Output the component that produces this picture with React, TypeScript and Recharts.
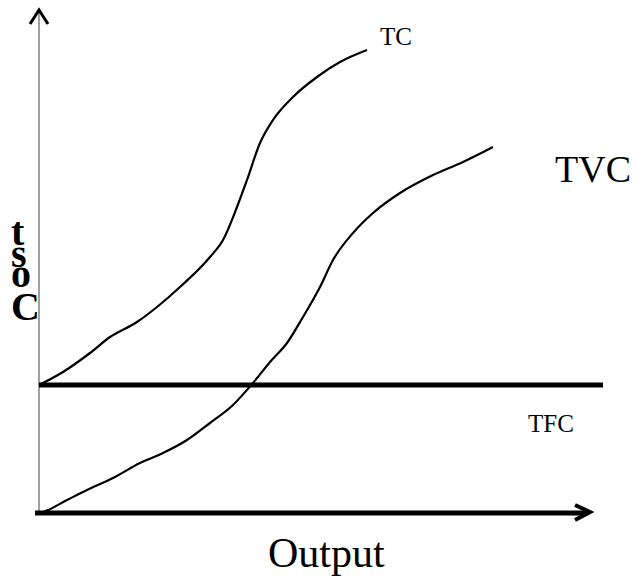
import React from 'react';
import {
  LineChart,
  Line,
  XAxis,
  YAxis,
  ReferenceLine,
  ReferenceDot,
} from 'recharts';

// output units on x (0..115), cost units on y (0..100)
const tcOutput = [0, 4.8, 10.2, 14.2, 19.6, 23.6, 28.2, 34.2, 36.8, 39.6, 41.6, 44.2, 46.8, 50.8, 55.6, 60.2, 65.6];
const tcCost = [25.6, 28.2, 32, 35.2, 38.2, 41.2, 45.2, 51.2, 54.6, 61.2, 66.6, 74, 78.6, 83.2, 87.2, 90.2, 92.6];

const tvcOutput = [0, 0.8, 5.6, 9.6, 14.8, 20.2, 24.8, 29.6, 34.2, 38.8, 42.8, 46.2, 49.6, 52.8, 56.2, 58.8, 62.8, 66.8, 72.2, 78.8, 84.8, 90.8];
const tvcCost = [0, 0.2, 2.6, 4.6, 7, 10, 12, 14.6, 18, 21.6, 26, 30.2, 34, 39.2, 45.2, 50.6, 56, 60, 64, 67.6, 70.2, 73.2];

const tfcCost = 25.6;
const tfcEnd = 112.8;
const axisEnd = 110.2;

const yLetters = ['t', 's', 'o', 'C'];
const yLetterBaselines = [245, 267, 287, 320];

const toPoints = (xs: number[], ys: number[]) => xs.map((x, i) => ({ x, y: ys[i] }));

const tcData = toPoints(tcOutput, tcCost);
const tvcData = toPoints(tvcOutput, tvcCost);

const FONT = '"Liberation Serif", "Times New Roman", serif';

function UpArrow(props: any) {
  const { cx, cy } = props;
  return (
    <path
      d={`M${cx - 9} ${cy + 11} L${cx} ${cy - 3} L${cx + 9} ${cy + 11}`}
      fill="none"
      stroke="#000"
      strokeWidth={3}
    />
  );
}

function RightArrow(props: any) {
  const { cx, cy } = props;
  return (
    <path
      d={`M${cx - 15} ${cy - 8} L${cx} ${cy - 1} L${cx - 15} ${cy + 7}`}
      fill="none"
      stroke="#000"
      strokeWidth={4}
    />
  );
}

export default function App() {
  return (
    <div style={{ position: 'absolute', left: 0, top: 0, width: 633, height: 580, background: '#fff' }}>
      <LineChart width={633} height={580} margin={{ top: 13, right: 19, bottom: 67, left: 39 }}>
        <XAxis type="number" dataKey="x" domain={[0, 115]} hide />
        <YAxis type="number" dataKey="y" domain={[0, 100]} hide />
        <ReferenceLine
          segment={[{ x: 0, y: 0 }, { x: 0, y: 100.6 }]}
          stroke="#888"
          strokeWidth={1.6}
          ifOverflow="visible"
        />
        <ReferenceDot x={0} y={100} r={0} shape={<UpArrow />} ifOverflow="visible" />
        <ReferenceLine
          segment={[{ x: 0, y: tfcCost }, { x: tfcEnd, y: tfcCost }]}
          stroke="#000"
          strokeWidth={5}
          ifOverflow="visible"
        />
        <ReferenceLine
          segment={[{ x: -0.8, y: 0 }, { x: axisEnd - 0.4, y: 0 }]}
          stroke="#000"
          strokeWidth={5}
          ifOverflow="visible"
        />
        <ReferenceDot x={axisEnd} y={0} r={0} shape={<RightArrow />} ifOverflow="visible" />
        <Line
          data={tcData}
          dataKey="y"
          type="monotone"
          stroke="#000"
          strokeWidth={2.2}
          dot={false}
          isAnimationActive={false}
        />
        <Line
          data={tvcData}
          dataKey="y"
          type="monotone"
          stroke="#000"
          strokeWidth={2.2}
          dot={false}
          isAnimationActive={false}
        />
      </LineChart>
      <svg
        width={633}
        height={580}
        style={{ position: 'absolute', left: 0, top: 0, pointerEvents: 'none' }}
        fontFamily={FONT}
      >
        <text x={380} y={45} fontSize={25}>TC</text>
        <text x={555} y={182} fontSize={38}>TVC</text>
        <text x={528} y={432} fontSize={25}>TFC</text>
        <text x={268} y={567} fontSize={42}>Output</text>
        {yLetters.map((ch, i) => (
          <text key={ch} x={11} y={yLetterBaselines[i]} fontSize={40} fontWeight="bold">
            {ch}
          </text>
        ))}
      </svg>
    </div>
  );
}
